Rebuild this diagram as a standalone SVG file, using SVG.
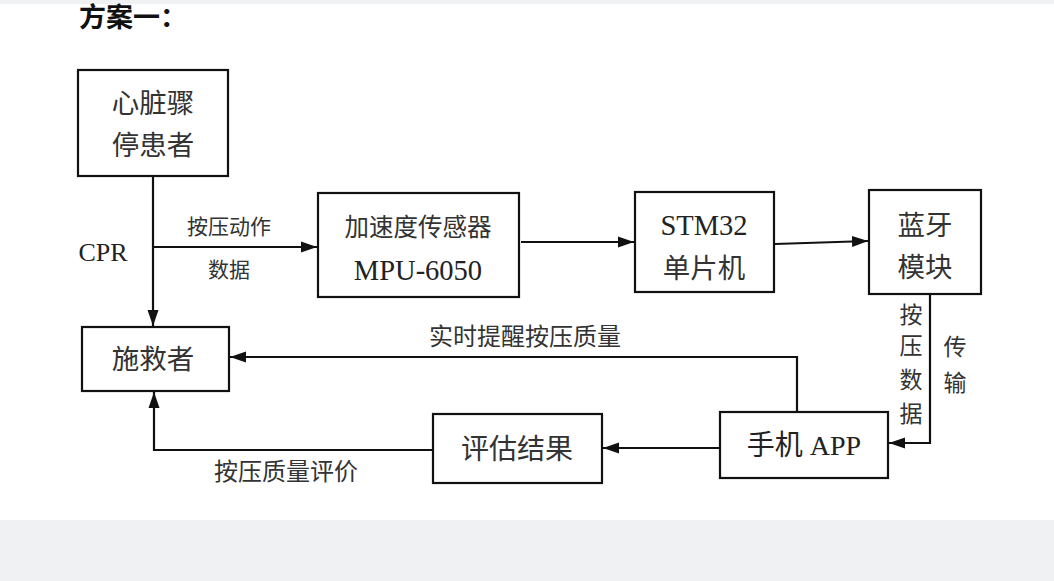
<svg xmlns="http://www.w3.org/2000/svg" width="1054" height="581" viewBox="0 0 1054 581">
<defs>
<marker id="arr" markerUnits="userSpaceOnUse" markerWidth="18" markerHeight="12" refX="16" refY="6" orient="auto">
<path d="M0,0.5 L16,6 L0,11.5 z" fill="#111"/>
</marker>
<style>
.box{fill:#fff;stroke:#111;stroke-width:2.2}
.ln{fill:none;stroke:#111;stroke-width:2.2}
.t{font-family:"Liberation Serif","Noto Sans CJK SC",serif;fill:#333;text-anchor:middle;dominant-baseline:central}
.b{font-size:27.5px}
.s{font-size:21px}
.m{font-size:23px}
.l{font-size:28.5px;fill:#222}
</style>
</defs>
<rect width="1054" height="581" fill="#fff"/>
<rect x="0" y="0" width="1054" height="4" fill="#f0f1f3"/>
<rect x="0" y="520" width="1054" height="61" fill="#f0f1f3"/>
<text x="79" y="18" class="t" style="text-anchor:start;font-size:27px;font-weight:bold;fill:#111">方案一：</text>
<g id="connectors">
<path class="ln" d="M153,177 L153,326" marker-end="url(#arr)"/>
<path class="ln" d="M153,247 L317,247" marker-end="url(#arr)"/>
<path class="ln" d="M521,242 L634,242" marker-end="url(#arr)"/>
<path class="ln" d="M775,244 L868,241" marker-end="url(#arr)"/>
<path class="ln" d="M930,294 L930,443 L889,443" marker-end="url(#arr)"/>
<path class="ln" d="M797,412 L797,357 L230,357" marker-end="url(#arr)"/>
<path class="ln" d="M720,448 L603,448" marker-end="url(#arr)"/>
<path class="ln" d="M433,450 L154,450 L154,392" marker-end="url(#arr)"/>
<text x="229" y="227" class="t s">按压动作</text>
<text x="229" y="270" class="t s">数据</text>
<text x="103" y="252" class="t" style="font-size:26px;fill:#222">CPR</text>
<text x="911" y="315" class="t m">按</text>
<text x="911" y="346" class="t m">压</text>
<text x="911" y="380" class="t m">数</text>
<text x="911" y="414" class="t m">据</text>
<text x="955" y="347" class="t m">传</text>
<text x="955" y="383" class="t m">输</text>
<text x="525" y="337" class="t" style="font-size:24px">实时提醒按压质量</text>
<text x="286" y="472" class="t" style="font-size:24px">按压质量评价</text>
</g>
<g id="patient">
<rect class="box" x="78" y="70" width="150" height="106"/>
<text x="153" y="103" class="t b">心脏骤</text>
<text x="153" y="145" class="t b">停患者</text>
</g>
<g id="rescuer">
<rect class="box" x="82" y="327" width="147" height="64"/>
<text x="153" y="359" class="t b">施救者</text>
</g>
<g id="mpu">
<rect class="box" x="318" y="193" width="201" height="104"/>
<text x="418" y="227" class="t" style="font-size:24.5px">加速度传感器</text>
<text x="418" y="270" class="t l">MPU-6050</text>
</g>
<g id="stm32">
<rect class="box" x="635" y="192" width="139" height="100"/>
<text x="704" y="225" class="t l">STM32</text>
<text x="704" y="268" class="t b">单片机</text>
</g>
<g id="bluetooth">
<rect class="box" x="869" y="190" width="112" height="104"/>
<text x="925" y="225" class="t b">蓝牙</text>
<text x="925" y="267" class="t b">模块</text>
</g>
<g id="app">
<rect class="box" x="720" y="412" width="168" height="66"/>
<text x="804" y="445" class="t" style="font-size:28px;fill:#222">手机 APP</text>
</g>
<g id="eval">
<rect class="box" x="433" y="414" width="169" height="69"/>
<text x="517" y="449" class="t" style="font-size:28px">评估结果</text>
</g>
</svg>
